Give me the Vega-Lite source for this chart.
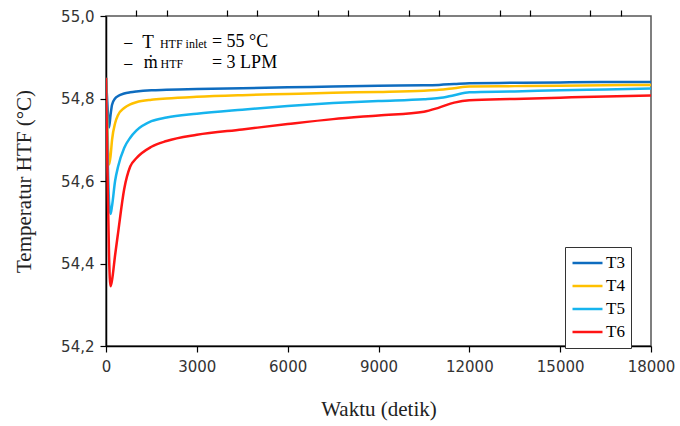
{
  "$schema": "https://vega.github.io/schema/vega-lite/v6.json",
  "autosize": "none",
  "width": 545,
  "height": 330,
  "padding": {"left": 106, "top": 16, "right": 29, "bottom": 80},
  "background": "white",
  "config": {"view": {"stroke": "#555555", "strokeWidth": 1.5}},
  "datasets": {
    "series": [
      {"t": 0, "T": 54.85, "s": "T3"}, {"t": 50, "T": 54.78, "s": "T3"}, {"t": 100, "T": 54.73, "s": "T3"}, {"t": 150, "T": 54.76, "s": "T3"}, {"t": 200, "T": 54.785, "s": "T3"}, {"t": 300, "T": 54.8, "s": "T3"}, {"t": 400, "T": 54.806, "s": "T3"}, {"t": 600, "T": 54.812, "s": "T3"}, {"t": 800, "T": 54.815, "s": "T3"}, {"t": 1000, "T": 54.817, "s": "T3"}, {"t": 1500, "T": 54.82, "s": "T3"}, {"t": 2000, "T": 54.821, "s": "T3"}, {"t": 3000, "T": 54.823, "s": "T3"}, {"t": 4500, "T": 54.825, "s": "T3"}, {"t": 6000, "T": 54.827, "s": "T3"}, {"t": 7500, "T": 54.829, "s": "T3"}, {"t": 9000, "T": 54.831, "s": "T3"}, {"t": 10500, "T": 54.832, "s": "T3"}, {"t": 11000, "T": 54.833, "s": "T3"}, {"t": 11500, "T": 54.835, "s": "T3"}, {"t": 12000, "T": 54.837, "s": "T3"}, {"t": 13500, "T": 54.838, "s": "T3"}, {"t": 15000, "T": 54.839, "s": "T3"}, {"t": 16500, "T": 54.84, "s": "T3"}, {"t": 18000, "T": 54.84, "s": "T3"},
      {"t": 0, "T": 54.85, "s": "T4"}, {"t": 50, "T": 54.72, "s": "T4"}, {"t": 100, "T": 54.64, "s": "T4"}, {"t": 150, "T": 54.66, "s": "T4"}, {"t": 200, "T": 54.7, "s": "T4"}, {"t": 300, "T": 54.74, "s": "T4"}, {"t": 400, "T": 54.76, "s": "T4"}, {"t": 600, "T": 54.777, "s": "T4"}, {"t": 800, "T": 54.786, "s": "T4"}, {"t": 1000, "T": 54.791, "s": "T4"}, {"t": 1500, "T": 54.797, "s": "T4"}, {"t": 2000, "T": 54.8, "s": "T4"}, {"t": 3000, "T": 54.804, "s": "T4"}, {"t": 4500, "T": 54.808, "s": "T4"}, {"t": 6000, "T": 54.811, "s": "T4"}, {"t": 7500, "T": 54.814, "s": "T4"}, {"t": 9000, "T": 54.816, "s": "T4"}, {"t": 10500, "T": 54.819, "s": "T4"}, {"t": 11000, "T": 54.821, "s": "T4"}, {"t": 11500, "T": 54.825, "s": "T4"}, {"t": 12000, "T": 54.829, "s": "T4"}, {"t": 13500, "T": 54.83, "s": "T4"}, {"t": 15000, "T": 54.831, "s": "T4"}, {"t": 16500, "T": 54.832, "s": "T4"}, {"t": 18000, "T": 54.833, "s": "T4"},
      {"t": 0, "T": 54.85, "s": "T5"}, {"t": 50, "T": 54.68, "s": "T5"}, {"t": 100, "T": 54.55, "s": "T5"}, {"t": 150, "T": 54.52, "s": "T5"}, {"t": 200, "T": 54.54, "s": "T5"}, {"t": 300, "T": 54.6, "s": "T5"}, {"t": 400, "T": 54.635, "s": "T5"}, {"t": 600, "T": 54.68, "s": "T5"}, {"t": 800, "T": 54.705, "s": "T5"}, {"t": 1000, "T": 54.722, "s": "T5"}, {"t": 1500, "T": 54.745, "s": "T5"}, {"t": 2000, "T": 54.754, "s": "T5"}, {"t": 3000, "T": 54.763, "s": "T5"}, {"t": 4500, "T": 54.773, "s": "T5"}, {"t": 6000, "T": 54.782, "s": "T5"}, {"t": 7500, "T": 54.789, "s": "T5"}, {"t": 9000, "T": 54.794, "s": "T5"}, {"t": 10500, "T": 54.798, "s": "T5"}, {"t": 11000, "T": 54.801, "s": "T5"}, {"t": 11500, "T": 54.808, "s": "T5"}, {"t": 12000, "T": 54.815, "s": "T5"}, {"t": 13500, "T": 54.817, "s": "T5"}, {"t": 15000, "T": 54.82, "s": "T5"}, {"t": 16500, "T": 54.822, "s": "T5"}, {"t": 18000, "T": 54.824, "s": "T5"},
      {"t": 0, "T": 54.85, "s": "T6"}, {"t": 50, "T": 54.62, "s": "T6"}, {"t": 100, "T": 54.42, "s": "T6"}, {"t": 150, "T": 54.345, "s": "T6"}, {"t": 200, "T": 54.36, "s": "T6"}, {"t": 300, "T": 54.42, "s": "T6"}, {"t": 400, "T": 54.475, "s": "T6"}, {"t": 600, "T": 54.58, "s": "T6"}, {"t": 800, "T": 54.635, "s": "T6"}, {"t": 1000, "T": 54.655, "s": "T6"}, {"t": 1500, "T": 54.683, "s": "T6"}, {"t": 2000, "T": 54.697, "s": "T6"}, {"t": 3000, "T": 54.712, "s": "T6"}, {"t": 4500, "T": 54.725, "s": "T6"}, {"t": 6000, "T": 54.738, "s": "T6"}, {"t": 7500, "T": 54.75, "s": "T6"}, {"t": 9000, "T": 54.759, "s": "T6"}, {"t": 10500, "T": 54.768, "s": "T6"}, {"t": 11000, "T": 54.778, "s": "T6"}, {"t": 11500, "T": 54.79, "s": "T6"}, {"t": 12000, "T": 54.796, "s": "T6"}, {"t": 13500, "T": 54.799, "s": "T6"}, {"t": 15000, "T": 54.802, "s": "T6"}, {"t": 16500, "T": 54.805, "s": "T6"}, {"t": 18000, "T": 54.807, "s": "T6"}
    ],
    "notes": [
      {"x": 600, "y": 54.937, "txt": "–", "sz": 16},
      {"x": 1200, "y": 54.937, "txt": "T", "sz": 19},
      {"x": 1780, "y": 54.933, "txt": "HTF inlet", "sz": 12},
      {"x": 3500, "y": 54.937, "txt": "= 55 °C", "sz": 18},
      {"x": 600, "y": 54.887, "txt": "–", "sz": 16},
      {"x": 1250, "y": 54.887, "txt": "ṁ", "sz": 18},
      {"x": 1800, "y": 54.884, "txt": "HTF", "sz": 12},
      {"x": 3500, "y": 54.887, "txt": "= 3 LPM", "sz": 18}
    ]
  },
  "resolve": {"axis": {"x": "independent"}},
  "layer": [
    {
      "data": {"name": "series"},
      "mark": {"type": "line", "strokeWidth": 2.5, "interpolate": "monotone", "clip": true},
      "encoding": {
        "x": {
          "field": "t", "type": "quantitative",
          "scale": {"domain": [0, 18000], "nice": false, "zero": false},
          "axis": {
            "title": "Waktu (detik)",
            "titleFont": "Liberation Serif", "titleFontSize": 21, "titleFontWeight": "normal", "titleColor": "#222222", "titlePadding": 24,
            "values": [0, 3000, 6000, 9000, 12000, 15000, 18000],
            "format": "d",
            "labelOverlap": false, "labelBound": false, "labelFlush": false,
            "labelFont": "DejaVu Sans", "labelFontSize": 15, "labelColor": "#333333", "labelPadding": 7,
            "grid": false, "domainColor": "black", "domainWidth": 1.5, "tickColor": "black", "tickSize": 6, "tickWidth": 1.2
          }
        },
        "y": {
          "field": "T", "type": "quantitative",
          "scale": {"domain": [54.2, 55.0], "nice": false, "zero": false},
          "axis": {
            "title": "Temperatur HTF (°C)",
            "titleFont": "Liberation Serif", "titleFontSize": 21, "titleFontWeight": "normal", "titleColor": "#222222", "titlePadding": 26,
            "values": [54.2, 54.4, 54.6, 54.8, 55.0],
            "labelExpr": "replace(format(datum.value, '.1f'), '.', ',')",
            "labelOverlap": false, "labelBound": false, "labelFlush": false,
            "labelFont": "DejaVu Sans", "labelFontSize": 15, "labelColor": "#333333", "labelPadding": 6,
            "grid": false, "domainColor": "black", "domainWidth": 1.5, "tickColor": "black", "tickSize": 6, "tickWidth": 1.2
          }
        },
        "color": {
          "field": "s", "type": "nominal",
          "scale": {"domain": ["T3", "T4", "T5", "T6"], "range": ["#0E6CBF", "#FFC000", "#16B4EE", "#FF1414"]},
          "legend": {
            "title": null, "orient": "none", "legendX": 459, "legendY": 231,
            "symbolType": "stroke", "symbolSize": 900, "symbolStrokeWidth": 2.5,
            "clipHeight": 20,
            "labelFont": "Liberation Serif", "labelFontSize": 17, "labelColor": "black",
            "rowPadding": 3, "padding": 6, "strokeColor": "#333333", "fillColor": "white",
            "labelOffset": 2
          }
        }
      }
    },
    {
      "data": {"name": "notes"},
      "mark": {"type": "text", "font": "Liberation Serif", "align": "left", "baseline": "middle", "color": "black"},
      "encoding": {
        "x": {
          "field": "x", "type": "quantitative",
          "axis": {
            "title": null, "labels": false, "domain": false, "grid": false,
            "values": [1000, 2000, 4000, 5000, 7000, 8000, 10000, 11000, 13000, 14000, 16000, 17000],
            "tickColor": "black", "tickSize": 6, "tickWidth": 1.2, "offset": 0
          }
        },
        "y": {"field": "y", "type": "quantitative"},
        "text": {"field": "txt"},
        "size": {"field": "sz", "type": "quantitative", "scale": null}
      }
    }
  ]
}
